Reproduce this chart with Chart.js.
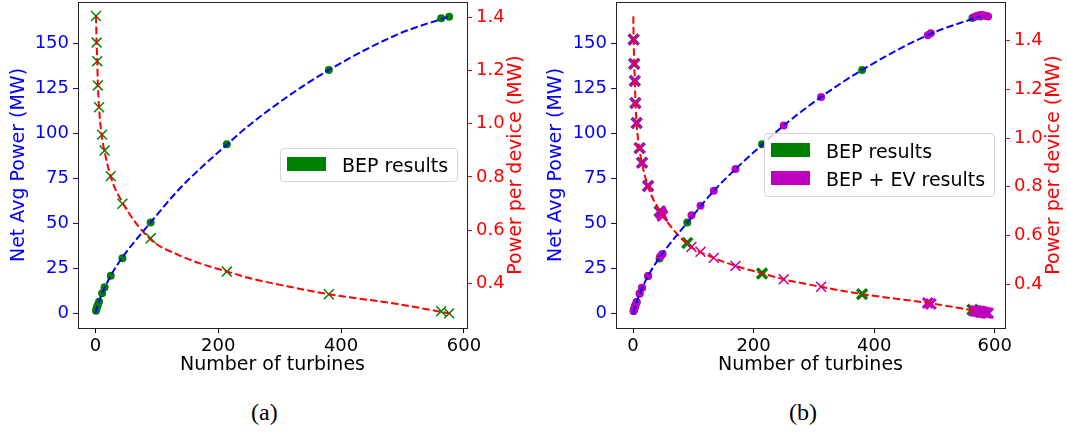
<!DOCTYPE html>
<html>
<head>
<meta charset="utf-8">
<script src="https://cdn.jsdelivr.net/npm/chart.js@4.4.0/dist/chart.umd.min.js"></script>
<style>
  html, body { margin: 0; padding: 0; background: #fff; }
  body { width: 1067px; height: 432px; position: relative; overflow: hidden; font-family: "DejaVu Sans", sans-serif; }
  canvas { position: absolute; top: 0; }
  .legend { position: absolute; background: rgba(255,255,255,0.8); border: 1px solid #d6d6d6; border-radius: 4px; box-sizing: border-box; }
  .patch { position: absolute; left: 6px; width: 39px; height: 14px; }
  .label { position: absolute; left: 61px; font-size: 19px; line-height: 20px; color: #000; white-space: nowrap; }
  .caption { position: absolute; top: 398px; font-family: "Liberation Serif", serif; font-size: 24px; line-height: 28px; color: #000; }
</style>
</head>
<body>
<canvas id="chartA" width="540" height="380" style="left:0"></canvas>
<canvas id="chartB" width="527" height="380" style="left:540px"></canvas>

<div class="legend" style="left:280px; top:148px; width:178px; height:34px;">
  <div class="patch" style="top:8px; background:#008000;"></div>
  <div class="label" style="top:6px;">BEP results</div>
</div>
<div class="legend" style="left:764px; top:133px; width:231px; height:64px;">
  <div class="patch" style="top:9px; background:#008000;"></div>
  <div class="label" style="top:7px;">BEP results</div>
  <div class="patch" style="top:37px; background:#bf00bf;"></div>
  <div class="label" style="top:35px;">BEP + EV results</div>
</div>

<div class="caption" style="left:251px;">(a)</div>
<div class="caption" style="left:789px;">(b)</div>

<script>
const xTicks = [0, 200, 400, 600];
const powerTicks = [0, 25, 50, 75, 100, 125, 150];
const deviceTicks = [0.4, 0.6, 0.8, 1.0, 1.2, 1.4];

// BEP results (same set in both panels)
const bepTurbines = [1, 2, 3, 4, 6, 11, 15, 25, 44, 90, 214, 380, 563, 576];
const bepPower = [1.4, 2.6, 3.7, 4.6, 6.4, 11.1, 14.4, 20.9, 30.5, 50.5, 93.9, 135.2, 164.0, 164.8];
const bepPerDevice = [1.405, 1.305, 1.235, 1.144, 1.062, 0.959, 0.899, 0.803, 0.699, 0.569, 0.444, 0.359, 0.295, 0.287];

// BEP + EV results (panel b)
const evTurbines = [1, 2, 3, 4, 6, 11, 15, 25, 45, 47, 49, 97, 112, 134, 170, 250, 312, 489, 494,
  566, 569, 572, 575, 578, 580, 583, 586, 589];
const evPower = [1.4, 2.6, 3.7, 4.6, 6.4, 11.1, 14.4, 20.9, 31.5, 32.4, 33.0, 54.6, 59.8, 68.1, 80.2, 104.4, 120.2, 154.5, 155.5,
  164.6, 165.0, 165.3, 165.5, 165.6, 165.5, 165.4, 165.2, 164.9];
const evPerDevice = [1.405, 1.305, 1.235, 1.144, 1.062, 0.959, 0.899, 0.803, 0.70, 0.69, 0.68, 0.553, 0.533, 0.508, 0.475, 0.420, 0.389, 0.323, 0.319,
  0.291, 0.290, 0.289, 0.288, 0.286, 0.285, 0.284, 0.282, 0.281];

// fitted curves (dashed)
const fitPowerTurbines = [0, 5, 10, 25, 45, 90, 134, 170, 215, 250, 312, 380, 492, 576];
const fitPower = [0, 5.8, 10.2, 20.9, 31.5, 50.5, 68.1, 80.2, 94.0, 104.4, 120.2, 135.2, 155.0, 165.0];
const fitDeviceTurbines = [1, 2, 3, 4, 6, 10, 15, 25, 45, 90, 134, 170, 215, 250, 312, 380, 492, 576];
const fitDevice = [1.405, 1.305, 1.235, 1.15, 1.06, 0.96, 0.895, 0.80, 0.70, 0.565, 0.508, 0.475, 0.444, 0.42, 0.389, 0.359, 0.322, 0.287];
const fitDeviceTurbinesB = [0.5, 1, 2, 3, 4, 6, 10, 15, 25, 45, 90, 134, 170, 215, 250, 312, 380, 492, 570];
const fitDeviceB = [1.50, 1.41, 1.31, 1.24, 1.15, 1.06, 0.965, 0.895, 0.80, 0.70, 0.565, 0.508, 0.475, 0.444, 0.42, 0.389, 0.359, 0.322, 0.29];

const FONT = "DejaVu Sans";

function pts(xs, ys) {
  return xs.map((x, i) => ({ x: x, y: ys[i] }));
}

// no extra room for half tick labels, the plot box is placed by hand
function noPad(s) {
  s.paddingTop = 0;
  s.paddingBottom = 0;
  s.paddingLeft = 0;
  s.paddingRight = 0;
}

const framePlugin = {
  id: "frame",
  afterDraw(chart) {
    const { ctx, chartArea: a } = chart;
    ctx.save();
    ctx.strokeStyle = "#222";
    ctx.lineWidth = 1;
    ctx.strokeRect(Math.round(a.left) + 0.5, Math.round(a.top) + 0.5, Math.round(a.width), Math.round(a.height));
    // right axis title, reading bottom to top like the left one
    ctx.fillStyle = "#ff0000";
    ctx.font = "19px '" + FONT + "'";
    ctx.textAlign = "center";
    ctx.textBaseline = "middle";
    ctx.translate(a.right + 49, (a.top + a.bottom) / 2);
    ctx.rotate(-Math.PI / 2);
    ctx.fillText("Power per device (MW)", 0, 0);
    ctx.restore();
  }
};

function buildChart(id, p) {
  const datasets = [
    {
      data: pts(fitPowerTurbines, fitPower), yAxisID: "y", showLine: true,
      borderColor: "#0000ff", borderWidth: 2, borderDash: [7.4, 3.2], pointRadius: 0,
      cubicInterpolationMode: "monotone"
    },
    {
      data: pts(p.fitN, p.fitD), yAxisID: "y2", showLine: true,
      borderColor: "#ff0000", borderWidth: 2, borderDash: [7.4, 3.2], pointRadius: 0,
      cubicInterpolationMode: "monotone"
    }
  ];
  if (p.withEV) {
    datasets.push({
      data: pts(evTurbines, evPower), yAxisID: "y",
      pointStyle: "circle", pointRadius: 4, backgroundColor: "#bf00bf", borderWidth: 0
    });
    datasets.push({
      data: pts(evTurbines, evPerDevice), yAxisID: "y2",
      pointStyle: "crossRot", pointRadius: 7, borderColor: "#bf00bf",
      pointBorderWidth: ctx => (ctx.raw && (ctx.raw.x < 60 || ctx.raw.x > 480)) ? 3 : 1.5
    });
  }
  datasets.push({
    data: pts(bepTurbines, bepPower), yAxisID: "y",
    pointStyle: "circle", pointRadius: 4, backgroundColor: "#008000", borderWidth: 0
  });
  datasets.push({
    data: pts(bepTurbines, bepPerDevice), yAxisID: "y2",
    pointStyle: "crossRot", pointRadius: 7, borderColor: "#008000", pointBorderWidth: p.withEV ? 3.5 : 1.5
  });

  return new Chart(document.getElementById(id), {
    type: "scatter",
    data: { datasets: datasets },
    options: {
      responsive: false,
      animation: false,
      devicePixelRatio: 1,
      events: [],
      layout: { autoPadding: false, padding: { top: 2, left: 0, right: 0, bottom: 0 } },
      plugins: { legend: { display: false }, tooltip: { enabled: false } },
      scales: {
        x: {
          type: "linear", min: p.xMin, max: p.xMax,
          afterBuildTicks: s => { s.ticks = xTicks.map(v => ({ value: v })); },
          afterFit: s => { s.height = 52; noPad(s); },
          border: { display: false },
          grid: { drawOnChartArea: false, tickLength: 5, color: "#000", tickColor: "#000" },
          ticks: { color: "#000", font: { family: FONT, size: 18 }, padding: 3, maxRotation: 0 },
          title: { display: true, text: "Number of turbines", color: "#000",
            font: { family: FONT, size: 19 }, padding: { top: 0, bottom: 4 } }
        },
        y: {
          type: "linear", position: "left", min: p.yMin, max: p.yMax,
          afterBuildTicks: s => { s.ticks = powerTicks.map(v => ({ value: v })); },
          afterFit: s => { s.width = p.leftW; noPad(s); },
          border: { display: false },
          grid: { drawOnChartArea: false, tickLength: 5, color: "#0000ff", tickColor: "#0000ff" },
          ticks: { color: "#0000ff", font: { family: FONT, size: 18 }, padding: 4 },
          title: { display: true, text: "Net Avg Power (MW)", color: "#0000ff",
            font: { family: FONT, size: 19 }, padding: { top: p.leftTitlePad, bottom: 0 } }
        },
        y2: {
          type: "linear", position: "right", min: p.rMin, max: p.rMax,
          afterBuildTicks: s => { s.ticks = deviceTicks.map(v => ({ value: v })); },
          afterFit: s => { s.width = p.rightW; noPad(s); },
          border: { display: false },
          grid: { drawOnChartArea: false, tickLength: 5, color: "#ff0000", tickColor: "#ff0000" },
          ticks: { color: "#ff0000", font: { family: FONT, size: 18 }, padding: 4,
            callback: v => v.toFixed(1) }
        }
      }
    },
    plugins: [framePlugin]
  });
}

buildChart("chartA", {
  withEV: false,
  fitN: fitDeviceTurbines, fitD: fitDevice,
  xMin: -28.3, xMax: 605, yMin: -8.2, yMax: 173, rMin: 0.232, rMax: 1.4575,
  leftW: 78, rightW: 73, leftTitlePad: 8
});

buildChart("chartB", {
  withEV: true,
  fitN: fitDeviceTurbinesB, fitD: fitDeviceB,
  xMin: -28.2, xMax: 617, yMin: -8.0, yMax: 172.9, rMin: 0.22, rMax: 1.559,
  leftW: 76, rightW: 62, leftTitlePad: 5
});
</script>
</body>
</html>
